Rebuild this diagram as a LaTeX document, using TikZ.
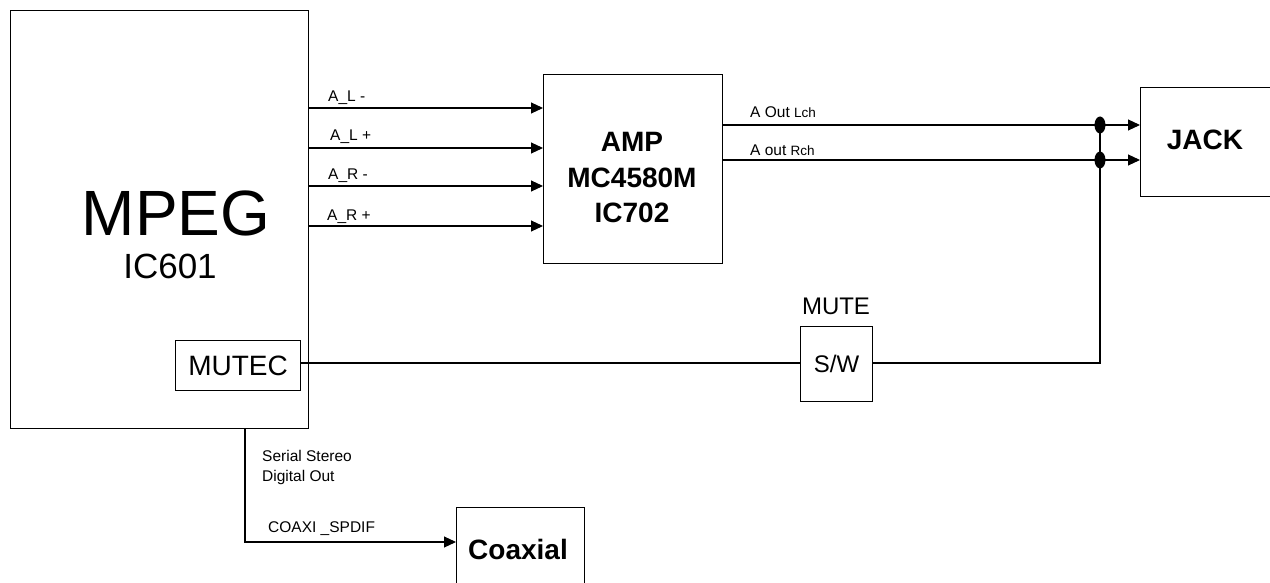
\documentclass[tikz,border=0pt]{standalone}
\usepackage{fontspec}
\setmainfont{Liberation Sans}
\usetikzlibrary{arrows.meta,shapes.geometric}
\begin{document}
\begin{tikzpicture}[x=1pt,y=-1pt,
  box/.style={draw, line width=1.1pt, inner sep=0pt, anchor=north west},
  wire/.style={line width=1.1pt},
  arr/.style={wire, -{Triangle[length=12pt,width=11pt]}},
  lbl/.style={inner sep=0pt, anchor=base west, font=\fontsize{15.5}{16}\selectfont},
  big/.style={inner sep=0pt, font=\fontsize{28}{30}\selectfont},
  bigb/.style={inner sep=0pt, font=\bfseries\fontsize{28}{30}\selectfont},
  dot/.style={fill=black, draw=none, ellipse, minimum width=11pt, minimum height=17pt, inner sep=0pt}
]
\useasboundingbox (0,0) rectangle (1270,583);

% boxes
\node[box, minimum width=298pt, minimum height=418pt] (mpeg) at (10,10) {};
\node[box, minimum width=125pt, minimum height=50pt] (mutec) at (175,340) {};
\node[box, minimum width=179pt, minimum height=189pt] (amp) at (543,74) {};
\node[box, minimum width=145pt, minimum height=109pt] (jack) at (1140,87) {};
\node[box, minimum width=72pt, minimum height=75pt] (sw) at (800,326) {};
\node[box, minimum width=128pt, minimum height=95pt] (coax) at (456,507) {};

% texts
\node[inner sep=0pt, font=\fontsize{64}{64}\selectfont] (mpegt) at (176,213) {MPEG};
\node[inner sep=0pt, font=\fontsize{35}{36}\selectfont] (ic601) at (170,266) {IC601};
\node[big] (mutect) at (mutec.center) {MUTEC};
\node[bigb] (ampt) at (632,142) {AMP};
\node[bigb] (mct) at (632,178) {MC4580M};
\node[bigb] (ict) at (632,213) {IC702};
\node[bigb] (jackt) at (1205,140) {JACK};
\node[inner sep=0pt, font=\fontsize{24}{26}\selectfont] (swt) at (sw.center) {S/W};
\node[inner sep=0pt, font=\fontsize{24}{26}\selectfont] (mutet) at (836,306) {MUTE};
\node[bigb] (coaxt) at (518,549) {Coaxial};

% input arrows
\draw[arr] (mpeg.east |- 0,108) -- (amp.west |- 0,108);
\draw[arr] (mpeg.east |- 0,148) -- (amp.west |- 0,148);
\draw[arr] (mpeg.east |- 0,186) -- (amp.west |- 0,186);
\draw[arr] (mpeg.east |- 0,226) -- (amp.west |- 0,226);
\node[lbl] (l1) at (328,102) {A\_L -};
\node[lbl] (l2) at (330,141) {A\_L +};
\node[lbl] (l3) at (328,180) {A\_R -};
\node[lbl] (l4) at (327,220) {A\_R +};

% outputs
\coordinate (j1) at (1100,125);
\coordinate (j2) at (1100,160);
\draw[arr] (amp.east |- j1) -- (jack.west |- j1);
\draw[arr] (amp.east |- j2) -- (jack.west |- j2);
\node[lbl] (o1) at (750,118) {A Out {\fontsize{13.5}{14}\selectfont Lch}};
\node[lbl] (o2) at (750,156) {A out {\fontsize{13.5}{14}\selectfont Rch}};

% mute path
\coordinate (mc) at (1100,363);
\draw[wire] (mutec.east |- mc) -- (sw.west |- mc);
\draw[wire] (sw.east |- mc) -- (mc) -- (j1);
\node[dot] (d1) at (j1) {};
\node[dot] (d2) at (j2) {};

% coaxial path
\coordinate (c0) at (245,428);
\coordinate (c1) at (245,542);
\draw[arr] (c0) -- (c1) -- (coax.west |- c1);
\node[lbl] (s1) at (262,461) {Serial Stereo};
\node[lbl] (s2) at (262,481) {Digital Out};
\node[lbl] (s3) at (268,532) {COAXI \_SPDIF};
\end{tikzpicture}
\end{document}
